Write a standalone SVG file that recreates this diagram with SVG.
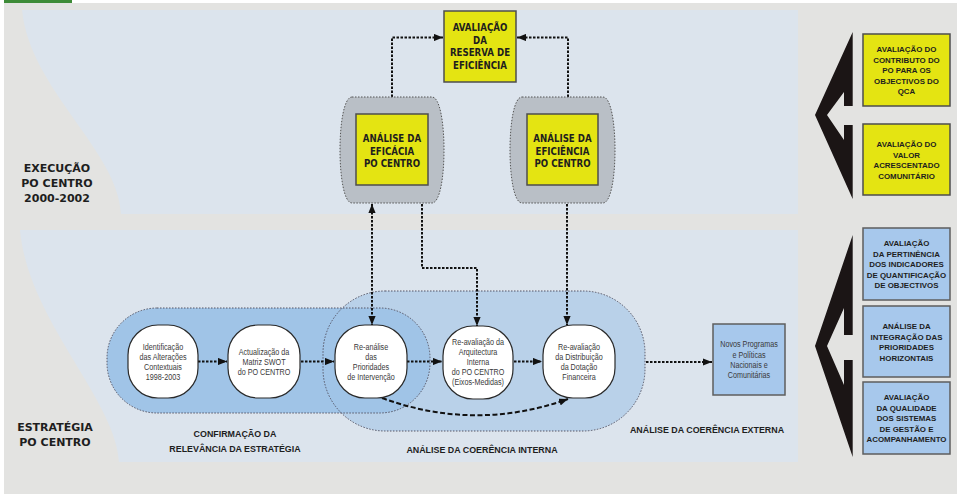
<svg xmlns="http://www.w3.org/2000/svg" width="957" height="494" viewBox="0 0 957 494">
<defs>
<style>
.lbl{font-family:'DejaVu Sans',sans-serif;font-weight:bold;font-size:11px;fill:#1e1e1e;text-anchor:middle}
.cap{font-family:'Liberation Sans',Arial,sans-serif;font-weight:bold;font-size:8.9px;fill:#1e1e1e;text-anchor:middle}
.yb{font-family:'DejaVu Sans Condensed','DejaVu Sans',sans-serif;font-stretch:condensed;font-weight:bold;font-size:9.6px;fill:#1e1e1e;text-anchor:middle}
.rb{font-family:'Liberation Sans',Arial,sans-serif;font-weight:bold;font-size:7.9px;fill:#1e1e1e;text-anchor:middle}
.ct{font-family:'Liberation Sans',Arial,sans-serif;font-size:9px;fill:#3a3a3a;text-anchor:middle}
.ybox{fill:#e4e412;stroke:#4d4d4d;stroke-width:1.5}
.bbox{fill:#a7c8ec;stroke:#5e5e5e;stroke-width:1.5}
.cont{fill:#b9bfc6;stroke:#555;stroke-width:1;stroke-dasharray:1.5 1.5}
.circ{fill:#fff;stroke:#2a2a2a;stroke-width:1.2}
.reg{stroke:#556;stroke-width:1;stroke-dasharray:1.5 1.5}
.con{fill:none;stroke:#111;stroke-width:2;stroke-dasharray:2.5 1.5}
.chev{fill:#1b1515}
</style>
<marker id="ah" viewBox="0 0 10 8" refX="10" refY="4" markerWidth="9" markerHeight="7.2" markerUnits="userSpaceOnUse" orient="auto-start-reverse"><path d="M0,0 L10,4 L0,8 z" fill="#111"/></marker>
</defs>

<g id="background">
<rect x="0" y="0" width="957" height="494" fill="#ffffff"/>
<rect x="4" y="3" width="953" height="491" fill="#e3e3e1"/>
<rect x="4" y="0" width="68" height="3" fill="#3d8b37"/>
<path d="M22,10 H798 V214 H121 C118,150 30,90 22,10 Z" fill="#dce4ed"/>
<path d="M20,230 H798 V462 H119 C116,400 28,320 20,230 Z" fill="#dce4ed"/>
</g>

<g id="regions">
<rect x="323" y="291" width="322" height="140" rx="62" fill="#b9d1e9"/>
<rect x="107" y="308" width="323" height="105" rx="50" fill="#a0c4e7"/>
<rect class="reg" x="107" y="308" width="323" height="105" rx="50" fill="none"/>
<rect class="reg" x="323" y="291" width="322" height="140" rx="62" fill="none"/>
</g>

<g id="labels">
<text class="lbl" x="57" y="172">EXECUÇÃO</text>
<text class="lbl" x="57" y="187">PO CENTRO</text>
<text class="lbl" x="57" y="202">2000-2002</text>
<text class="lbl" x="55" y="431">ESTRATÉGIA</text>
<text class="lbl" x="55" y="446">PO CENTRO</text>
<text class="cap" x="235" y="437">CONFIRMAÇÃO DA</text>
<text class="cap" x="235" y="451.5">RELEVÂNCIA DA ESTRATÉGIA</text>
<text class="cap" x="482" y="453">ANÁLISE DA COERÊNCIA INTERNA</text>
<text class="cap" x="707" y="433">ANÁLISE DA COERÊNCIA EXTERNA</text>
</g>

<g id="connectors">
<path class="con" d="M392,97 V37.5 H443" marker-end="url(#ah)"/>
<path class="con" d="M568,97 V37.5 H517" marker-end="url(#ah)"/>
<path class="con" d="M372,204 V325" marker-start="url(#ah)" marker-end="url(#ah)"/>
<path class="con" d="M422,204 V268 H477 V326" marker-end="url(#ah)"/>
<path class="con" d="M567,204 V325" marker-end="url(#ah)"/>
<path class="con" d="M198,361.5 H227" marker-end="url(#ah)"/>
<path class="con" d="M301,361.5 H334" marker-end="url(#ah)"/>
<path class="con" d="M407,361.5 H442" marker-end="url(#ah)"/>
<path class="con" d="M514,361.5 H542" marker-end="url(#ah)"/>
<path class="con" style="stroke-dasharray:5 2.5" d="M382,398 Q475,432 568,399" marker-end="url(#ah)"/>
<path class="con" d="M646,362 H712" marker-end="url(#ah)"/>
</g>

<g id="reserva">
<rect class="ybox" x="444" y="11" width="72" height="71"/>
<text class="yb" x="480" y="30.8">AVALIAÇÃO</text>
<text class="yb" x="480" y="43.6">DA</text>
<text class="yb" x="480" y="56.4">RESERVA DE</text>
<text class="yb" x="480" y="69.2">EFICIÊNCIA</text>
</g>

<g id="eficacia">
<path class="cont" d="M352,97 H432 C448,97 448,203 432,203 H352 C336,203 336,97 352,97 Z"/>
<rect class="ybox" x="356" y="114" width="72" height="71"/>
<text class="yb" x="392" y="141.8">ANÁLISE DA</text>
<text class="yb" x="392" y="154.6">EFICÁCIA</text>
<text class="yb" x="392" y="167.4">PO CENTRO</text>
</g>

<g id="eficiencia">
<path class="cont" d="M522,97 H603 C619,97 619,203 603,203 H522 C506,203 506,97 522,97 Z"/>
<rect class="ybox" x="527" y="114" width="71" height="71"/>
<text class="yb" x="562.5" y="141.8">ANÁLISE DA</text>
<text class="yb" x="562.5" y="154.6">EFICIÊNCIA</text>
<text class="yb" x="562.5" y="167.4">PO CENTRO</text>
</g>

<g id="c1">
<rect class="circ" x="128" y="325" width="70" height="73" rx="30"/>
<g transform="translate(163,0) scale(0.8,1)">
<text class="ct" x="0" y="350">Identificação</text>
<text class="ct" x="0" y="360">das Alterações</text>
<text class="ct" x="0" y="370">Contextuais</text>
<text class="ct" x="0" y="380">1998-2003</text>
</g>
</g>

<g id="c2">
<rect class="circ" x="228" y="325" width="72" height="73" rx="30"/>
<g transform="translate(264,0) scale(0.8,1)">
<text class="ct" x="0" y="355">Actualização da</text>
<text class="ct" x="0" y="365">Matriz SWOT</text>
<text class="ct" x="0" y="375">do PO CENTRO</text>
</g>
</g>

<g id="c3">
<rect class="circ" x="335" y="325" width="72" height="73" rx="30"/>
<g transform="translate(371,0) scale(0.8,1)">
<text class="ct" x="0" y="350">Re-análise</text>
<text class="ct" x="0" y="360">das</text>
<text class="ct" x="0" y="370">Prioridades</text>
<text class="ct" x="0" y="380">de Intervenção</text>
</g>
</g>

<g id="c4">
<rect class="circ" x="443" y="326" width="70" height="73" rx="30"/>
<g transform="translate(478,0) scale(0.8,1)">
<text class="ct" x="0" y="345.5">Re-avaliação da</text>
<text class="ct" x="0" y="355.5">Arquitectura</text>
<text class="ct" x="0" y="365.5">Interna</text>
<text class="ct" x="0" y="375.5">do PO CENTRO</text>
<text class="ct" x="0" y="385.5">(Eixos-Medidas)</text>
</g>
</g>

<g id="c5">
<rect class="circ" x="543" y="325" width="72" height="73" rx="30"/>
<g transform="translate(579,0) scale(0.8,1)">
<text class="ct" x="0" y="350">Re-avaliação</text>
<text class="ct" x="0" y="360">da Distribuição</text>
<text class="ct" x="0" y="370">da Dotação</text>
<text class="ct" x="0" y="380">Financeira</text>
</g>
</g>

<g id="novos">
<rect class="bbox" x="713" y="324" width="72" height="71"/>
<g transform="translate(749,0) scale(0.8,1)">
<text class="ct" x="0" y="347.5">Novos Programas</text>
<text class="ct" x="0" y="357.8">e Políticas</text>
<text class="ct" x="0" y="368.1">Nacionais e</text>
<text class="ct" x="0" y="378.4">Comunitárias</text>
</g>
</g>

<g id="chevrons">
<path class="chev" d="M852.7,32 V106 H844 V92 L827,115 L844,140 V125 H852.7 V199 L815,115 Z"/>
<path class="chev" d="M852.7,235 V335 H844 V308 L827,346 L844,385 V360 H852.7 V457 L815,346 Z"/>
</g>

<g id="contributo">
<rect class="ybox" x="863" y="34" width="87" height="72"/>
<text class="rb" x="906.5" y="52">AVALIAÇÃO DO</text>
<text class="rb" x="906.5" y="62.5">CONTRIBUTO DO</text>
<text class="rb" x="906.5" y="73">PO PARA OS</text>
<text class="rb" x="906.5" y="83.5">OBJECTIVOS DO</text>
<text class="rb" x="906.5" y="94">QCA</text>
</g>

<g id="valor">
<rect class="ybox" x="863" y="124" width="87" height="71"/>
<text class="rb" x="906.5" y="147">AVALIAÇÃO DO</text>
<text class="rb" x="906.5" y="157.5">VALOR</text>
<text class="rb" x="906.5" y="168">ACRESCENTADO</text>
<text class="rb" x="906.5" y="178.5">COMUNITÁRIO</text>
</g>

<g id="pertinencia">
<rect class="bbox" x="863" y="228" width="87" height="72"/>
<text class="rb" x="906.5" y="246">AVALIAÇÃO</text>
<text class="rb" x="906.5" y="256.5">DA PERTINÊNCIA</text>
<text class="rb" x="906.5" y="267">DOS INDICADORES</text>
<text class="rb" x="906.5" y="277.5">DE QUANTIFICAÇÃO</text>
<text class="rb" x="906.5" y="288">DE OBJECTIVOS</text>
</g>

<g id="integracao">
<rect class="bbox" x="863" y="306" width="87" height="71"/>
<text class="rb" x="906.5" y="329.3">ANÁLISE DA</text>
<text class="rb" x="906.5" y="339.8">INTEGRAÇÃO DAS</text>
<text class="rb" x="906.5" y="350.3">PRIORIDADES</text>
<text class="rb" x="906.5" y="360.8">HORIZONTAIS</text>
</g>

<g id="qualidade">
<rect class="bbox" x="863" y="382" width="87" height="72"/>
<text class="rb" x="906.5" y="400">AVALIAÇÃO</text>
<text class="rb" x="906.5" y="410.5">DA QUALIDADE</text>
<text class="rb" x="906.5" y="421">DOS SISTEMAS</text>
<text class="rb" x="906.5" y="431.5">DE GESTÃO E</text>
<text class="rb" x="906.5" y="442">ACOMPANHAMENTO</text>
</g>
</svg>
